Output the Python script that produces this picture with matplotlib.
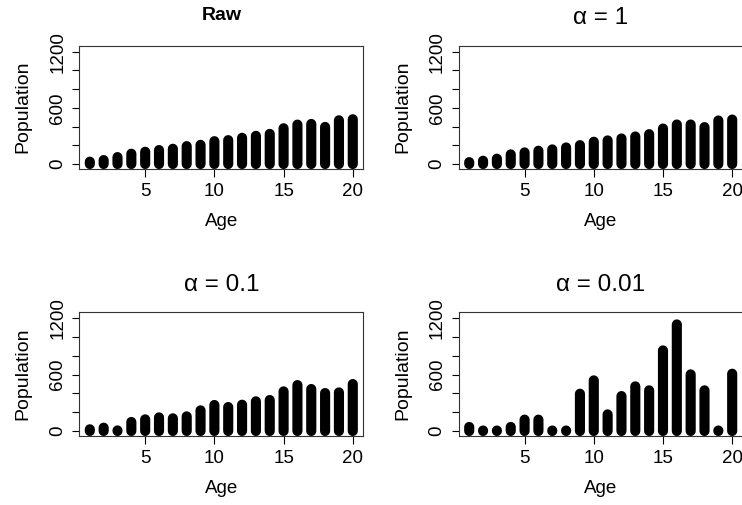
import matplotlib
matplotlib.use("Agg")
import matplotlib.pyplot as plt
import numpy as np

plt.rcParams['font.family'] = ['Liberation Sans', 'DejaVu Sans']
plt.rcParams['path.simplify'] = False

age = np.arange(1, 21)
raw = [25, 42, 74, 110, 131, 149, 163, 191, 205, 244, 255, 280, 301, 322, 382, 421, 428, 396, 467, 478]
alpha_1 = [20, 35, 57, 103, 124, 142, 156, 177, 202, 238, 252, 273, 294, 319, 379, 422, 422, 394, 465, 475]
alpha_01 = [18, 35, 6, 96, 124, 145, 135, 156, 220, 277, 255, 280, 316, 330, 422, 489, 447, 404, 411, 500]
alpha_001 = [43, 5, 5, 43, 121, 121, 5, 5, 397, 539, 177, 372, 475, 433, 858, 1135, 603, 433, 5, 610]

titles = ["Raw", "\u03b1 = 1", "\u03b1 = 0.1", "\u03b1 = 0.01"]
series = [raw, alpha_1, alpha_01, alpha_001]
yticks = [0, 200, 400, 600, 800, 1000, 1200]
ylabels = ["0", "", "", "600", "", "", "1200"]
xticks = [5, 10, 15, 20]

W, H = 742, 505
fig = plt.figure(figsize=(W/100, H/100), dpi=100)
# panel boxes in pixels: left, top, right, bottom
boxes = [(79.3, 45.7, 363.3, 168.5), (458.7, 45.7, 742.7, 168.5),
         (79.3, 312.3, 363.3, 435.5), (458.7, 312.3, 742.7, 435.5)]
title_y = [15.7, 18.3, 285, 285]

for i, (l, t, r, b) in enumerate(boxes):
    ax = fig.add_axes([l/W, 1-b/H, (r-l)/W, (b-t)/H])
    for x, y in zip(age, series[i]):
        ax.plot([x, x], [0, y], color="black", linewidth=7.3, solid_capstyle="round",
                clip_on=False, snap=False)
    ax.set_xlim(0.24, 20.76); ax.set_ylim(-48, 1264)
    ax.set_xticks(xticks); ax.set_yticks(yticks); ax.set_yticklabels(ylabels)
    ax.tick_params(length=5.4, width=0.8, labelsize=13.5, direction="out")
    ax.tick_params(axis="x", pad=5)
    ax.tick_params(axis="y", pad=4)
    for lab in ax.get_yticklabels():
        lab.set_rotation(90); lab.set_va("center")
    for s in ax.spines.values():
        s.set_linewidth(0.8); s.set_color("#333333")
    ax.set_xlabel("Age", fontsize=13.5, va="center")
    ax.xaxis.set_label_coords(0.5, -53/(b-t))
    ax.set_ylabel("Population", fontsize=14, va="center")
    ax.yaxis.set_label_coords(-56/(r-l), 0.5)
    if i == 0:
        fig.text((l+r)/2/W, 1-title_y[i]/H, titles[i], ha="center", va="center", fontsize=14, fontweight="bold")
    else:
        fig.text((l+r)/2/W, 1-title_y[i]/H, titles[i], ha="center", va="center", fontsize=17.5)

fig.savefig("out.png", dpi=100)
